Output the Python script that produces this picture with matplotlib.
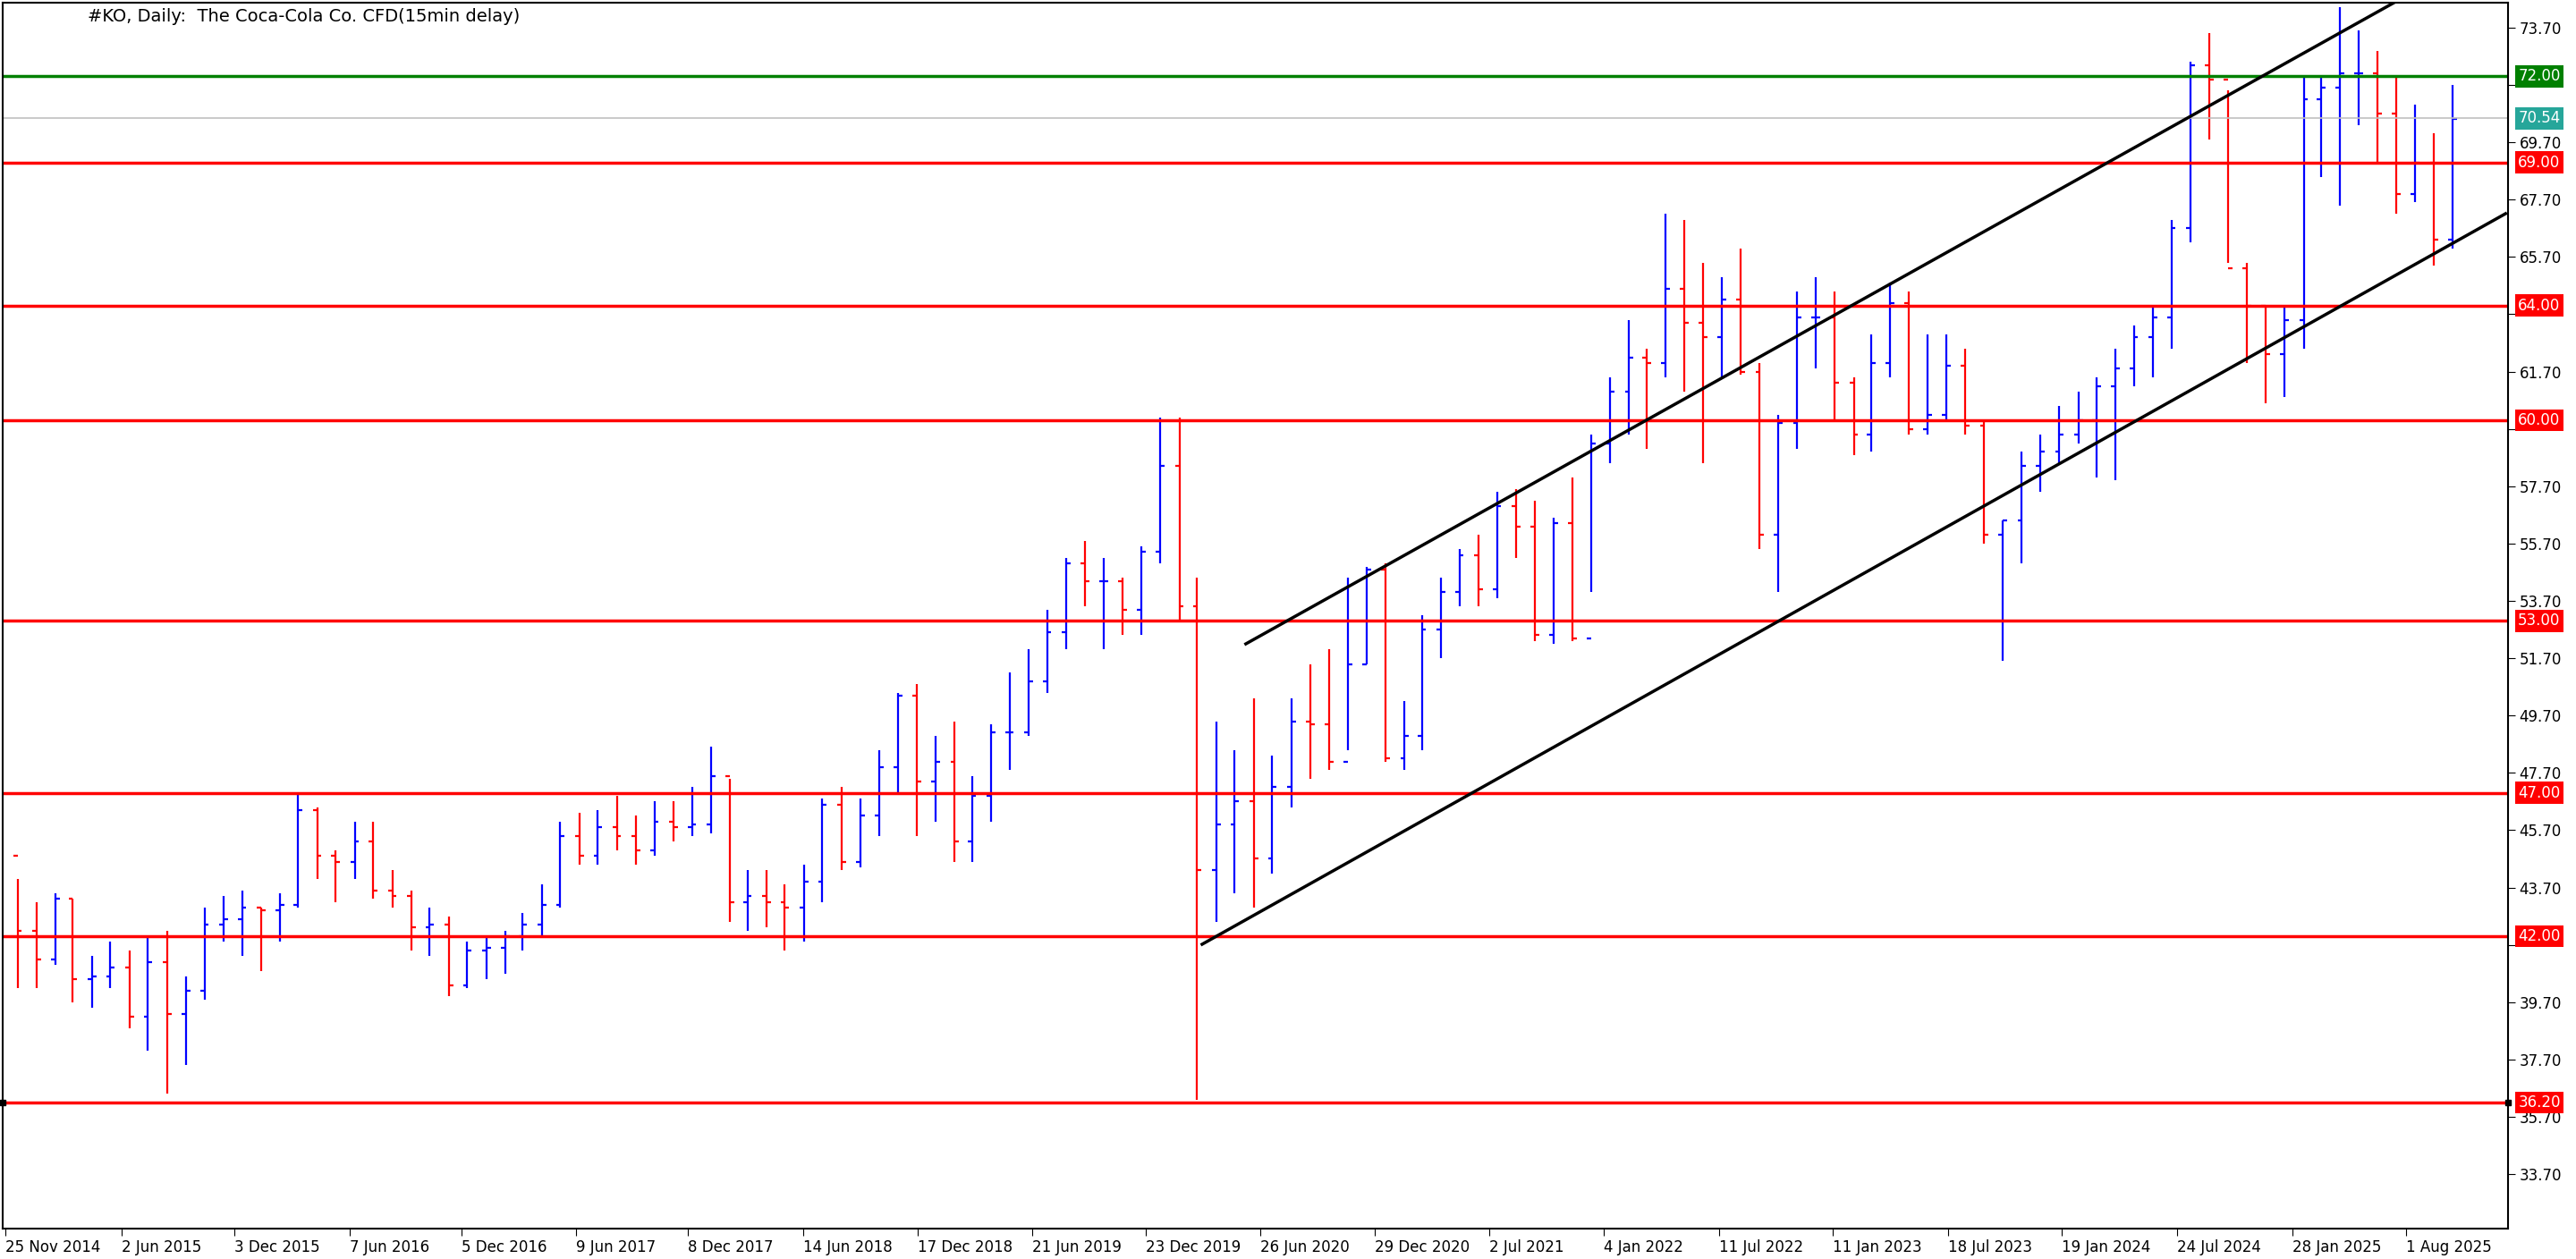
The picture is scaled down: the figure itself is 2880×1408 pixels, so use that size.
import matplotlib
matplotlib.use('Agg')
import matplotlib.pyplot as plt
import pandas as pd
import numpy as np

# monthly bars (Nov 2014 .. Oct 2025)
months = pd.date_range('2014-11-01', '2025-10-01', freq='MS')
closes = [44.8, 42.2,
          41.2, 43.3, 40.5, 40.6, 40.9, 39.2, 41.1, 39.3, 40.1, 42.4, 42.6, 43.0,
          42.9, 43.1, 46.4, 44.8, 44.6, 45.3, 43.6, 43.4, 42.3, 42.4, 40.3, 41.5,
          41.6, 42.0, 42.4, 43.1, 45.5, 44.8, 45.8, 45.5, 45.0, 46.0, 45.8, 45.9,
          47.6, 43.2, 43.4, 43.2, 43.0, 43.9, 46.6, 44.6, 46.2, 47.9, 50.4, 47.4,
          48.1, 45.3, 46.9, 49.1, 49.1, 50.9, 52.6, 55.0, 54.4, 54.4, 53.4, 55.4,
          58.4, 53.5, 44.3, 45.9, 46.7, 44.7, 47.2, 49.5, 49.4, 48.1, 51.5, 54.8,
          48.2, 49.0, 52.7, 54.0, 55.3, 54.1, 57.0, 56.3, 52.5, 56.4, 52.4, 59.2,
          61.0, 62.2, 62.0, 64.6, 63.4, 62.9, 64.2, 61.7, 56.0, 59.9, 63.6, 63.6,
          61.3, 59.5, 62.0, 64.1, 59.7, 60.2, 61.9, 59.8, 56.0, 56.5, 58.4, 58.9,
          59.5, 60.0, 61.2, 61.8, 62.9, 63.6, 66.7, 72.4, 71.9, 65.3, 64.0, 62.3,
          63.5, 71.2, 71.6, 72.1, 72.1, 70.7, 67.9, 69.0, 66.3, 70.5]
highs = [45.5, 44.0,
         43.2, 43.5, 43.3, 41.3, 41.8, 41.5, 42.0, 42.2, 40.6, 43.0, 43.4, 43.6,
         43.0, 43.5, 47.0, 46.5, 45.0, 46.0, 46.0, 44.3, 43.6, 43.0, 42.7, 41.8,
         42.0, 42.2, 42.8, 43.8, 46.0, 46.3, 46.4, 46.9, 46.2, 46.7, 46.7, 47.2,
         48.6, 47.5, 44.3, 44.3, 43.8, 44.5, 46.8, 47.2, 46.8, 48.5, 50.5, 50.8,
         49.0, 49.5, 47.6, 49.4, 51.2, 52.0, 53.4, 55.2, 55.8, 55.2, 54.5, 55.6,
         60.1, 60.1, 54.5, 49.5, 48.5, 50.3, 48.3, 50.3, 51.5, 52.0, 54.5, 54.9,
         55.0, 50.2, 53.2, 54.5, 55.5, 56.0, 57.5, 57.6, 57.2, 56.6, 58.0, 59.5,
         61.5, 63.5, 62.5, 67.2, 67.0, 65.5, 65.0, 66.0, 62.0, 60.2, 64.5, 65.0,
         64.5, 61.5, 63.0, 64.8, 64.5, 63.0, 63.0, 62.5, 60.0, 56.5, 58.9, 59.5,
         60.5, 61.0, 61.5, 62.5, 63.3, 64.0, 67.0, 72.5, 73.5, 71.5, 65.5, 64.0,
         64.0, 72.0, 72.0, 74.4, 73.6, 72.9, 72.0, 71.0, 70.0, 71.7]
lows = [43.5, 40.2,
        40.2, 41.0, 39.7, 39.5, 40.2, 38.8, 38.0, 36.5, 37.5, 39.8, 41.8, 41.3,
        40.8, 41.8, 43.0, 44.0, 43.2, 44.0, 43.3, 43.0, 41.5, 41.3, 39.9, 40.2,
        40.5, 40.7, 41.5, 42.0, 43.0, 44.5, 44.5, 45.0, 44.5, 44.8, 45.3, 45.5,
        45.6, 42.5, 42.2, 42.3, 41.5, 41.8, 43.2, 44.3, 44.4, 45.5, 47.0, 45.5,
        46.0, 44.6, 44.6, 46.0, 47.8, 49.0, 50.5, 52.0, 53.5, 52.0, 52.5, 52.5,
        55.0, 53.0, 36.3, 42.5, 43.5, 43.0, 44.2, 46.5, 47.5, 47.8, 48.5, 51.5,
        48.1, 47.8, 48.5, 51.7, 53.5, 53.5, 53.8, 55.2, 52.3, 52.2, 52.3, 54.0,
        58.5, 59.5, 59.0, 61.5, 61.0, 58.5, 61.5, 61.6, 55.5, 54.0, 59.0, 61.8,
        60.0, 58.8, 58.9, 61.5, 59.5, 59.5, 60.0, 59.5, 55.7, 51.6, 55.0, 57.5,
        58.5, 59.2, 58.0, 57.9, 61.2, 61.5, 62.5, 66.2, 69.8, 65.5, 62.0, 60.6,
        60.8, 62.5, 68.5, 67.5, 70.3, 69.0, 67.2, 67.6, 65.4, 66.0]
opens = [44.0] + closes[:-1]

red_levels = [69.0, 64.0, 60.0, 53.0, 47.0, 42.0, 36.2]
green_level = 72.0
last_price = 70.54

# channel (date, price) end points
lower_chan = (['2020-03-23', '2026-01-09'], [41.72, 67.21])
upper_chan = (['2020-06-02', '2025-07-20'], [52.2, 74.67])

tick_dates = ['2014-11-25', '2015-06-02', '2015-12-03', '2016-06-07', '2016-12-05',
              '2017-06-09', '2017-12-08', '2018-06-14', '2018-12-17', '2019-06-21',
              '2019-12-23', '2020-06-26', '2020-12-29', '2021-07-02', '2022-01-04',
              '2022-07-11', '2023-01-11', '2023-07-18', '2024-01-19', '2024-07-24',
              '2025-01-28', '2025-08-01']
price_ticks = np.arange(33.7, 74.0, 2.0)

fig = plt.figure(figsize=(28.8, 14.08), dpi=100)
ax = fig.add_axes([3 / 2880, 34 / 1408, 2801 / 2880, 1371 / 1408])

centers = months + pd.Timedelta(days=14)
for d, o, h, l, c in zip(centers, opens, highs, lows, closes):
    col = '#0000ff' if c >= o else '#ff0000'
    ax.vlines(d, l, h, color=col, lw=1.6)
    ax.hlines(o, d - pd.Timedelta(days=7), d, color=col, lw=1.6)
    ax.hlines(c, d, d + pd.Timedelta(days=7), color=col, lw=1.6)

for lv in red_levels:
    ax.axhline(lv, color='#ff0000', lw=2.5)
ax.axhline(green_level, color='#008000', lw=2.5)
ax.axhline(last_price, color='#c0c0c0', lw=1.2)

for xs, ys in (lower_chan, upper_chan):
    ax.plot(pd.to_datetime(xs), ys, color='black', lw=2.5)

xl = (pd.Timestamp('2014-11-21'), pd.Timestamp('2026-01-13'))
ax.plot(list(xl), [36.2, 36.2], 's', color='black', ms=5, clip_on=False)
ax.set_xlim(*xl)
ax.set_ylim(31.8, 74.57)

# hide tick labels sitting right under a level box
boxed = red_levels + [green_level, last_price]
ax.yaxis.tick_right()
ax.set_yticks(price_ticks)
ax.set_yticklabels(['' if min(abs(v - b) for b in boxed) < 0.45 else '%.2f' % v
                    for v in price_ticks], fontsize=12)
ax.set_xticks(pd.to_datetime(tick_dates))
ax.set_xticklabels([pd.Timestamp(t).strftime('%-d %b %Y') for t in tick_dates],
                   fontsize=12, ha='left')
ax.tick_params(direction='out', length=6, pad=3)
for s in ax.spines.values():
    s.set_linewidth(1.5)

def price_box(y, bg, fg='white'):
    ax.text(1.004, y, '%.2f' % y, transform=ax.get_yaxis_transform(),
            fontsize=12, color=fg, va='center', ha='left', zorder=5,
            bbox=dict(boxstyle='square,pad=0.2', fc=bg, ec='none'))

for lv in red_levels:
    price_box(lv, '#ff0000')
price_box(green_level, '#008000')
price_box(last_price, '#26a69a')

ax.text(95 / 2801, 1 - 15 / 1371, '#KO, Daily:  The Coca-Cola Co. CFD(15min delay)',
        transform=ax.transAxes, fontsize=14, va='center', ha='left')

fig.savefig('out.png', dpi=100)
